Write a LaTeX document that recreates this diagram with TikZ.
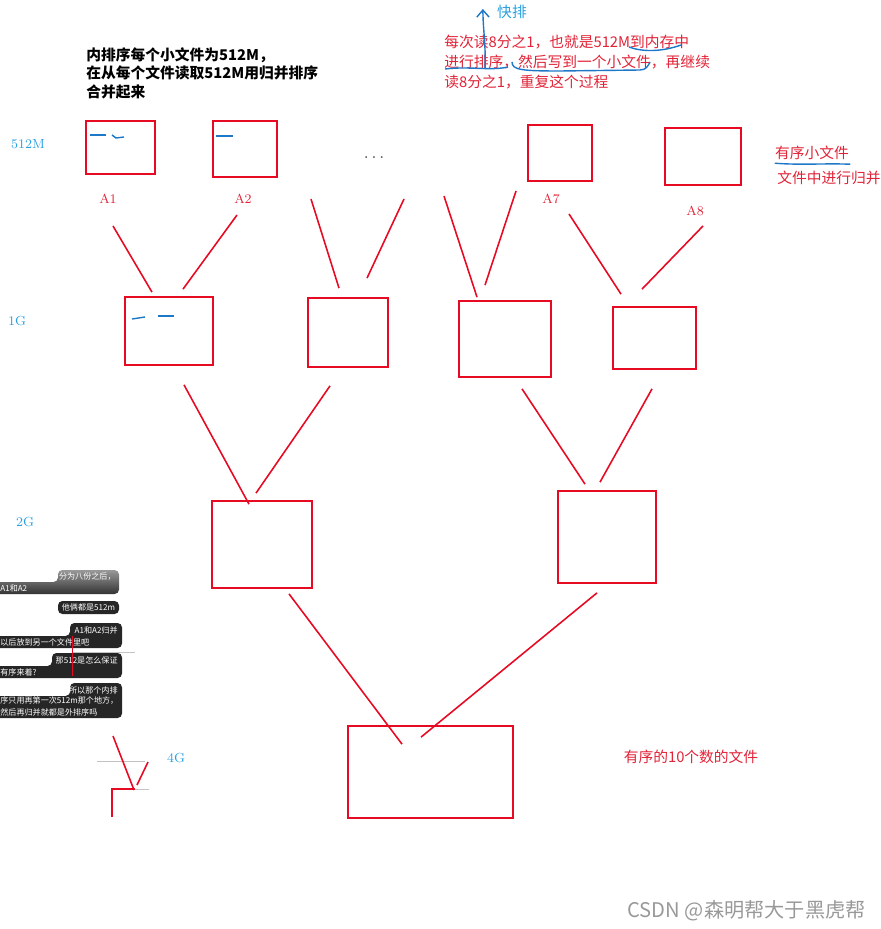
\documentclass[tikz,border=0pt]{standalone}
\usepackage{fontspec}
\newfontfamily\cjk{Noto Sans CJK SC}
\usetikzlibrary{arrows.meta}
\definecolor{penred}{RGB}{230,10,35}
\definecolor{textred}{RGB}{225,35,55}
\definecolor{labelblue}{RGB}{40,160,225}
\definecolor{penblue}{RGB}{30,120,200}
\definecolor{faintgray}{RGB}{195,195,195}
\definecolor{bubbledark}{RGB}{38,38,38}
\begin{document}
\begin{tikzpicture}[
    x=0.02cm, y=-0.02cm,
    filebox/.style={draw=penred, line width=1pt, inner sep=0pt},
    merge/.style={draw=penred, line width=0.9pt},
    bluepen/.style={draw=penblue, line width=0.8pt},
    faint/.style={draw=faintgray, line width=0.5pt},
    tag/.style={text=labelblue, font=\fontsize{7.5}{9}\selectfont, inner sep=0pt},
    fname/.style={text=textred, font=\fontsize{7.5}{9}\selectfont, inner sep=0pt},
    redtext/.style={text=textred, font=\cjk\fontsize{8.4}{11.3}\selectfont, inner sep=0pt},
    bubble/.style={fill=bubbledark, rounded corners=2.5pt},
    bubtext/.style={text=white, font=\cjk\fontsize{4.6}{5.5}\selectfont, inner sep=0pt}
    ]
    \useasboundingbox (0,0) rectangle (881,929);

    % notes on top
    \node[anchor=north west, align=left, inner sep=0pt, font=\cjk\bfseries\fontsize{8.4}{10.5}\selectfont] (innersort) at (86,47) {内排序每个小文件为512M，\\在从每个文件读取512M用归并排序\\合并起来};
    \node[redtext, anchor=north west, align=left] (readeighth) at (444,35) {每次读8分之1，也就是512M到内存中\\进行排序，然后写到一个小文件，再继续\\读8分之1，重复这个过程};
    \node[tag, font=\cjk\fontsize{8.4}{10}\selectfont] (kp) at (512,12) {快排};
    \coordinate (kpfoot) at (485,69);
    \draw[bluepen, -{Straight Barb[length=4pt,width=7pt]}] (kpfoot) .. controls (486,45) and (483,30) .. ([shift={(-14,-3)}]kp.west);
    \draw[bluepen] (629,47) .. controls (642,52) and (662,52) .. (681,45);
    \draw[bluepen] (445,69) .. controls (470,66) and (490,71) .. (508,67);
    \draw[bluepen] (512,62) .. controls (512,70) and (522,71) .. (560,71) -- (640,70) .. controls (646,70) and (648,66) .. (650,62);

    % level labels
    \node[tag] (l512) at (28,144) {512M};
    \node[tag] (l1g) at (17,321) {1G};
    \node[tag] (l2g) at (25,522) {2G};
    \node[tag] (l4g) at (176,758) {4G};

    % small files
    \node[filebox, minimum width=1.38cm, minimum height=1.06cm] (a1) at (120.5,147.5) {};
    \node[filebox, minimum width=1.28cm, minimum height=1.12cm] (a2) at (245,149) {};
    \node[filebox, minimum width=1.28cm, minimum height=1.12cm] (a7) at (560,153) {};
    \node[filebox, minimum width=1.52cm, minimum height=1.14cm] (a8) at (703,156.5) {};
    \node[fname] (la1) at (108,199) {A1};
    \node[fname] (la2) at (243,199) {A2};
    \node[fname] (la7) at (551,199) {A7};
    \node[fname] (la8) at (695,211) {A8};
    \node[text=black!70, font=\fontsize{10}{12}\selectfont, inner sep=0pt] (dots) at (374,158) {.\,.\,.};
    \draw[bluepen] (90,135) -- (106,135);
    \draw[bluepen] (112,135) -- (116,138) -- (124,137);
    \draw[bluepen] (216,136) -- (233,136);

    % 1G files
    \node[filebox, minimum width=1.76cm, minimum height=1.36cm] (g1a) at (169,331) {};
    \node[filebox, minimum width=1.60cm, minimum height=1.38cm] (g1b) at (348,332.5) {};
    \node[filebox, minimum width=1.84cm, minimum height=1.52cm] (g1c) at (505,339) {};
    \node[filebox, minimum width=1.66cm, minimum height=1.24cm] (g1d) at (654.5,338) {};
    \draw[bluepen] (132,319) -- (145,317);
    \draw[bluepen] (158,316) -- (174,316);

    % 2G and 4G files
    \node[filebox, minimum width=2.00cm, minimum height=1.74cm] (g2a) at (262,544.5) {};
    \node[filebox, minimum width=1.96cm, minimum height=1.84cm] (g2b) at (607,537) {};
    \node[filebox, minimum width=3.30cm, minimum height=1.84cm] (g4) at (430.5,772) {};

    % merge strokes
    \draw[merge] ([shift={(5,27)}]la1.center) -- ([shift={(-17,-4)}]g1a.north);
    \draw[merge] ([shift={(-6,16)}]la2.center) -- ([shift={(14,-7)}]g1a.north);
    \draw[merge] ([shift={(-63,41)}]dots.center) -- ([shift={(-9,-9)}]g1b.north);
    \draw[merge] ([shift={(30,41)}]dots.center) -- ([shift={(19,-19)}]g1b.north);
    \draw[merge] ([shift={(-107,-3)}]la7.center) -- ([shift={(-28,-3)}]g1c.north);
    \draw[merge] ([shift={(-35,-8)}]la7.center) -- ([shift={(-20,-15)}]g1c.north);
    \draw[merge] ([shift={(18,15)}]la7.center) -- ([shift={(-33.5,-12)}]g1d.north);
    \draw[merge] ([shift={(8,15)}]la8.center) -- ([shift={(-12.5,-17)}]g1d.north);
    \draw[merge] ([shift={(15,19)}]g1a.south) -- ([shift={(-13,4)}]g2a.north);
    \draw[merge] ([shift={(-18,18)}]g1b.south) -- ([shift={(-6,-7)}]g2a.north);
    \draw[merge] ([shift={(17,11)}]g1c.south) -- ([shift={(-22,-6)}]g2b.north);
    \draw[merge] ([shift={(-2.5,19)}]g1d.south) -- ([shift={(-7,-8)}]g2b.north);
    \draw[merge] ([shift={(27,5)}]g2a.south) -- ([shift={(-28.5,19)}]g4.north);
    \draw[merge] ([shift={(-10,9)}]g2b.south) -- ([shift={(-9.5,12)}]g4.north);

    % right side notes
    \node[redtext] (sorted) at (812,153) {有序小文件};
    \draw[bluepen] ([shift={(0,3)}]sorted.south west) .. controls +(25,2) and +(-25,-1) .. ([shift={(1,4)}]sorted.south east);
    \node[redtext, anchor=west] (mergein) at (777,178) {文件中进行归并};
    \node[redtext] (tenfile) at (691,757) {有序的10个数的文件};

    % chat bubbles on the left
    \shade[top color=black!40, bottom color=black!80, rounded corners=2.5pt] (-5,582) -- (58,582) -- (58,570) -- (119,570) -- (119,594) -- (-5,594) -- cycle;
    \node[bubtext, anchor=east] (c1a) at (116,577) {分为八份之后，};
    \node[bubtext, anchor=west] (c1b) at (0,588) {A1和A2};
    \fill[bubble] (58,601) rectangle (119,614);
    \node[bubtext] (c2) at (88.5,607.5) {他俩都是512m};
    \fill[bubble] (-5,636) -- (70,636) -- (70,623) -- (122,623) -- (122,648) -- (-5,648) -- cycle;
    \node[bubtext, anchor=east] (c3a) at (118,630) {A1和A2归并};
    \node[bubtext, anchor=west] (c3b) at (0,642) {以后放到另一个文件里吧};
    \fill[bubble] (-5,666) -- (52,666) -- (52,653) -- (122,653) -- (122,678) -- (-5,678) -- cycle;
    \node[bubtext, anchor=east] (c4a) at (118,660) {那512是怎么保证};
    \node[bubtext, anchor=west] (c4b) at (0,672) {有序来着?};
    \fill[bubble] (-5,696) -- (70,696) -- (70,683) -- (122,683) -- (122,718) -- (-5,718) -- cycle;
    \node[bubtext, anchor=east] (c5a) at (118,690) {所以那个内排};
    \node[bubtext, anchor=west] (c5b) at (0,701) {序只用再第一次512m那个地方，};
    \node[bubtext, anchor=west] (c5c) at (0,712) {然后再归并就都是外排序吗};
    \draw[faint] (72,652) -- (135,652);
    \draw[penred, line width=0.4pt] (72,636) -- (72,676);

    % stray strokes near 4G
    \draw[faint] (97,761) -- (145,761);
    \draw[merge] (113,736) -- (134,790);
    \draw[merge] (148,762) -- (137,785);
    \draw[merge] (112,817) -- (112,789) -- (135,789);
    \draw[faint] (135,789) -- (149,789);

    % watermark
    \node[anchor=east, text=black!40, inner sep=0pt, font=\cjk\fontsize{11.5}{13}\selectfont] (mark) at (866,911) {CSDN @森明帮大于黑虎帮};
\end{tikzpicture}
\end{document}
